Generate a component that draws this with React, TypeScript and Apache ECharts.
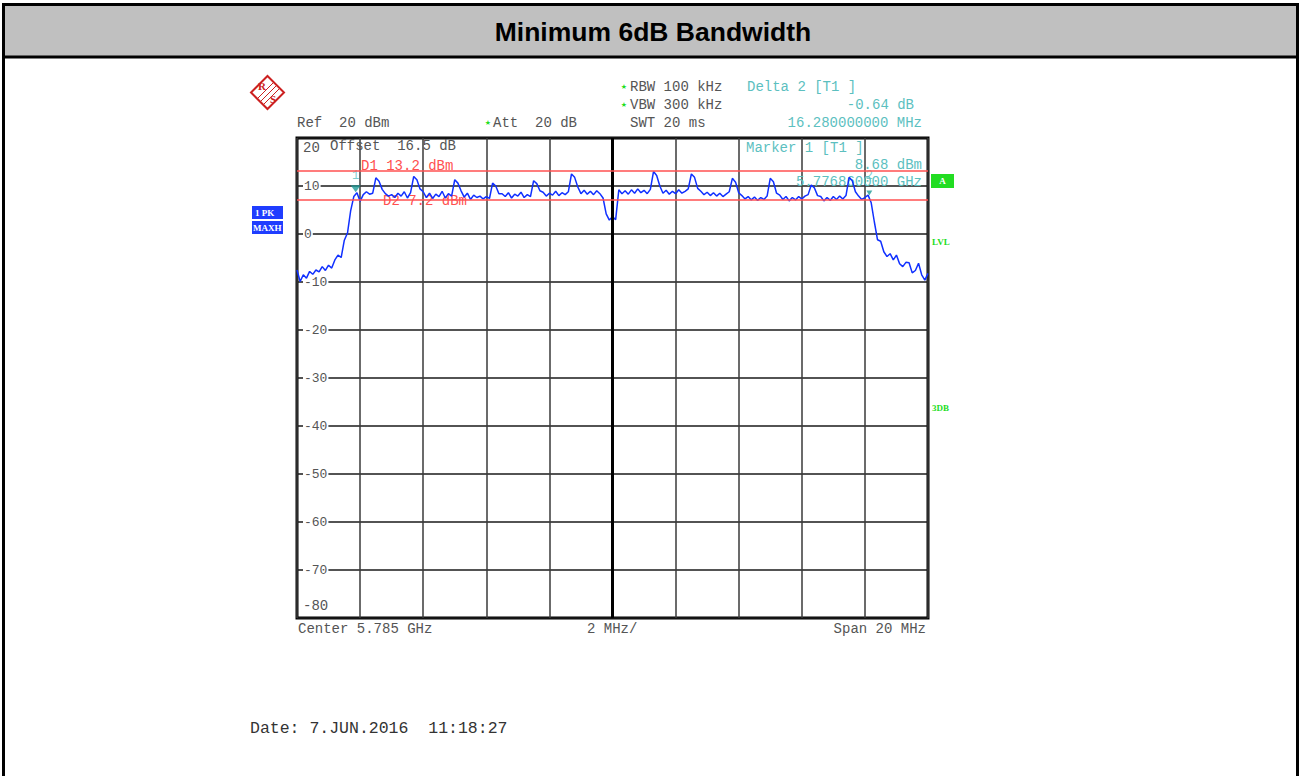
import React, { useEffect, useRef } from 'react';
import * as echarts from 'echarts';

// ---------------- data ----------------
const TITLE = 'Minimum 6dB Bandwidth';
const SPAN_MHZ = 20;
const X_DIV_MHZ = 2;
const FREQ_STEP_MHZ = 0.1; // trace point spacing, offset from start frequency (5.775 GHz)
const Y_MIN = -80;
const Y_MAX = 20;
const Y_DIV = 10;

// trace (max hold), dBm, one value every 0.1 MHz from 5.775 GHz to 5.795 GHz
const TRACE_DBM = [
  -7.5, -9.9, -8.5, -9.2, -7.8, -8.4, -7.5, -7.9, -6.8, -7.6,
  -6.5, -7.1, -5.4, -4.4, -4.9, -1.3, 0.2, 4.8, 7.8, 8.6,
  6.8, 8.2, 8.8, 8.3, 8.5, 11.7, 11.0, 9.3, 8.4, 7.9,
  8.2, 7.6, 8.5, 7.9, 8.8, 7.5, 8.6, 12.0, 11.3, 9.4,
  8.8, 7.6, 8.5, 7.4, 8.3, 7.8, 8.9, 7.5, 8.4, 7.9,
  11.3, 10.6, 9.0, 7.7, 8.5, 7.2, 8.1, 7.6, 7.9, 7.3,
  7.8, 7.4, 10.6, 10.0, 8.4, 8.4, 7.8, 8.6, 7.5, 8.3,
  7.9, 8.7, 7.6, 8.2, 7.8, 11.1, 10.5, 9.0, 8.7, 7.9,
  8.5, 8.1, 8.9, 8.0, 8.6, 8.2, 8.8, 12.5, 11.8, 9.8,
  8.4, 9.1, 8.3, 8.9, 8.2, 9.0, 8.4, 7.5, 4.2, 2.9,
  3.6, 3.0, 9.2, 8.4, 9.0, 8.3, 9.2, 8.5, 9.4, 8.6,
  9.1, 8.4, 9.3, 13.0, 12.2, 10.0, 8.5, 9.1, 8.3, 8.9,
  8.4, 9.2, 8.5, 8.9, 9.4, 12.5, 11.8, 9.5, 8.9, 8.2,
  8.7, 8.0, 8.6, 7.9, 8.5, 7.8, 8.3, 8.8, 11.6, 10.8,
  8.6, 8.0, 7.3, 7.8, 7.1, 7.7, 7.0, 7.6, 7.2, 7.9,
  11.6, 10.9, 8.5, 8.1, 7.2, 7.8, 6.9, 7.6, 7.1, 7.8,
  7.3, 7.9, 8.2, 10.2, 9.6, 8.0, 7.8, 6.9, 7.6, 7.0,
  7.8, 7.2, 7.9, 7.3, 8.0, 11.8, 11.1, 8.8, 7.9, 7.2,
  7.6, 8.1, 6.5, 2.5, -1.2, -1.5, -3.7, -4.7, -4.1, -5.4,
  -4.4, -6.2, -6.8, -5.9, -6.0, -8.1, -7.6, -6.1, -8.5, -9.6,
  -8.2,
];

const D1_DBM = 13.2;
const D2_DBM = 7.2;
const MARKER_NAMES = ['1', '2'];
const MARKER_FREQ_MHZ = [1.86, 18.14]; // 5.776860 GHz and +16.28 MHz
const MARKER_LEVEL_DBM = [8.68, 8.04];

// ---------------- styles ----------------
const MONO = '"Liberation Mono", "DejaVu Sans Mono", monospace';
const GRAY = '#555555';
const TEAL = '#5cbfbf';
const RED = '#ff5050';
const GREEN = '#22dd22';
const BLUE = '#1f3dff';

function txt(text: string, x: number, y: number, o: any = {}) {
  return {
    type: 'text',
    x,
    y,
    z: o.z ?? 50,
    silent: true,
    style: {
      text,
      fill: o.color ?? GRAY,
      fontSize: o.size ?? 14,
      fontFamily: o.family ?? MONO,
      fontWeight: o.weight ?? 'normal',
      align: o.align ?? 'left',
      verticalAlign: 'middle',
    },
  };
}

export default function App() {
  const ref = useRef<HTMLDivElement>(null);

  useEffect(() => {
    document.body.style.margin = '0';
    const chart = echarts.init(ref.current!, undefined, { renderer: 'svg' });

    const trace = TRACE_DBM.map((v, i) => [i * FREQ_STEP_MHZ, v]);

    const graphics: any[] = [
      // frame + header
      { type: 'rect', z: 0, silent: true, shape: { x: 3.5, y: 5.5, width: 1294, height: 51 }, style: { fill: '#c0c0c0', stroke: 'none' } },
      { type: 'rect', z: 60, silent: true, shape: { x: 3.5, y: 4.5, width: 1294, height: 800 }, style: { fill: 'none', stroke: '#000', lineWidth: 3 } },
      { type: 'line', z: 60, silent: true, shape: { x1: 3, y1: 57, x2: 1298, y2: 57 }, style: { stroke: '#000', lineWidth: 3 } },
      txt(TITLE, 653, 32, { family: '"Liberation Sans", Arial, sans-serif', size: 26.5, weight: 'bold', color: '#000', align: 'center' }),

      // R&S logo
      { type: 'polygon', z: 50, silent: true, shape: { points: [[267.5, 76], [284, 92.5], [267.5, 109], [251, 92.5]] }, style: { fill: 'none', stroke: '#cc2020', lineWidth: 2 } },
      { type: 'line', z: 50, silent: true, shape: { x1: 274, y1: 82, x2: 257, y2: 99 }, style: { stroke: '#cc2020', lineWidth: 1 } },
      { type: 'line', z: 50, silent: true, shape: { x1: 277, y1: 85, x2: 260, y2: 102 }, style: { stroke: '#cc2020', lineWidth: 1 } },
      { type: 'line', z: 50, silent: true, shape: { x1: 280, y1: 88, x2: 263, y2: 105 }, style: { stroke: '#cc2020', lineWidth: 1 } },
      txt('R', 262, 86, { family: '"Liberation Serif", serif', size: 11, weight: 'bold', color: '#cc2020', align: 'center' }),
      txt('S', 273, 99, { family: '"Liberation Serif", serif', size: 11, weight: 'bold', color: '#cc2020', align: 'center' }),

      // header settings
      txt('\u2605', 624, 87, { size: 7, color: GREEN, family: '"DejaVu Sans", sans-serif', align: 'center' }),
      txt('RBW 100 kHz', 630, 87),
      txt('\u2605', 624, 105, { size: 7, color: GREEN, family: '"DejaVu Sans", sans-serif', align: 'center' }),
      txt('VBW 300 kHz', 630, 105),
      txt('SWT 20 ms', 630, 123),
      txt('Ref  20 dBm', 297, 123),
      txt('\u2605', 488, 123, { size: 7, color: GREEN, family: '"DejaVu Sans", sans-serif', align: 'center' }),
      txt('Att  20 dB', 493, 123),
      txt('Delta 2 [T1 ]', 747, 87, { color: TEAL }),
      txt('-0.64 dB', 914, 105, { color: TEAL, align: 'right' }),
      txt('16.280000000 MHz', 922, 123, { color: TEAL, align: 'right' }),

      // inside plot
      txt('20', 303, 148, { z: 1 }),
      txt('Offset  16.5 dB', 330, 146, { z: 1 }),
      txt('Marker 1 [T1 ]', 746, 148, { color: TEAL, z: 1 }),
      txt('8.68 dBm', 922, 165, { color: TEAL, align: 'right', z: 1 }),
      txt('5.776860000 GHz', 922, 182, { color: TEAL, align: 'right', z: 1 }),
      txt('D1 13.2 dBm', 361, 166, { color: RED, z: 1 }),
      txt('D2 7.2 dBm', 383, 201, { color: RED, z: 1 }),
      txt('-80', 303, 606, { z: 1 }),

      // bottom
      txt('Center 5.785 GHz', 298, 629),
      txt('2 MHz/', 587, 629),
      txt('Span 20 MHz', 926, 629, { align: 'right' }),
      txt('Date: 7.JUN.2016  11:18:27', 250, 728, { size: 16.5, color: '#333' }),

      // left trace info boxes
      { type: 'rect', z: 50, silent: true, shape: { x: 252, y: 206, width: 31, height: 13 }, style: { fill: BLUE } },
      txt('1 PK', 255, 212.5, { family: '"Liberation Serif", serif', size: 9, weight: 'bold', color: '#fff' }),
      { type: 'rect', z: 50, silent: true, shape: { x: 252, y: 221, width: 31, height: 13 }, style: { fill: BLUE } },
      txt('MAXH', 253, 227.5, { family: '"Liberation Serif", serif', size: 9, weight: 'bold', color: '#fff' }),

      // right side flags
      { type: 'rect', z: 50, silent: true, shape: { x: 931, y: 174, width: 23, height: 14 }, style: { fill: GREEN } },
      txt('A', 942.5, 181, { family: '"Liberation Serif", serif', size: 9, weight: 'bold', color: '#fff', align: 'center' }),
      txt('LVL', 932, 241.5, { family: '"Liberation Serif", serif', size: 9, weight: 'bold', color: GREEN }),
      txt('3DB', 932, 408, { family: '"Liberation Serif", serif', size: 9, weight: 'bold', color: GREEN }),
    ];

    chart.setOption({
      animation: false,
      backgroundColor: '#ffffff',
      grid: {
        left: 297,
        top: 138,
        width: 631,
        height: 480,
        show: true,
        borderColor: '#000',
        borderWidth: 3,
        backgroundColor: 'transparent',
      },
      xAxis: {
        type: 'value',
        min: 0,
        max: SPAN_MHZ,
        interval: X_DIV_MHZ,
        axisLine: { show: false },
        axisTick: { show: false },
        axisLabel: { show: false },
        splitLine: { show: true, lineStyle: { color: '#3a3a3a', width: 1.5 } },
      },
      yAxis: {
        type: 'value',
        min: Y_MIN,
        max: Y_MAX,
        interval: Y_DIV,
        axisLine: { show: false },
        axisTick: { show: false },
        splitLine: { show: true, lineStyle: { color: '#1a1a1a', width: 1.5 } },
        axisLabel: {
          inside: true,
          margin: 6,
          showMinLabel: false,
          showMaxLabel: false,
          color: GRAY,
          fontFamily: MONO,
          fontSize: 13,
          backgroundColor: '#ffffff',
          padding: [0, 1],
        },
      },
      series: [
        {
          type: 'line',
          data: [],
          z: 1,
          silent: true,
          markLine: {
            silent: true,
            symbol: 'none',
            label: { show: false },
            data: [
              { xAxis: SPAN_MHZ / 2, lineStyle: { color: '#000', width: 3, type: 'solid' } },
              { yAxis: D1_DBM, lineStyle: { color: RED, width: 1.5, type: 'solid' } },
              { yAxis: D2_DBM, lineStyle: { color: RED, width: 1.5, type: 'solid' } },
            ],
          },
        },
        {
          type: 'line',
          data: trace,
          z: 3,
          silent: true,
          showSymbol: false,
          symbol: 'none',
          lineStyle: { color: '#1030ff', width: 1.5 },
        },
        {
          type: 'scatter',
          z: 4,
          silent: true,
          symbol: 'triangle',
          symbolRotate: 180,
          data: MARKER_NAMES.map((n, i) => ({
            value: [MARKER_FREQ_MHZ[i], MARKER_LEVEL_DBM[i]],
            symbolSize: i === 0 ? [10, 7] : [6, 5],
            symbolOffset: i === 0 ? [0, -3.5] : [0, -2.5],
            label: {
              show: true,
              formatter: n,
              position: 'top',
              distance: i === 0 ? 3 : 8,
              color: TEAL,
              fontFamily: MONO,
              fontSize: 12,
            },
          })),
          itemStyle: { color: '#1e9a96' },
        },
      ],
      graphic: graphics,
    });

    return () => chart.dispose();
  }, []);

  return (
    <div
      ref={ref}
      style={{ position: 'absolute', left: 0, top: 0, width: 1301, height: 776, background: '#fff' }}
    />
  );
}
